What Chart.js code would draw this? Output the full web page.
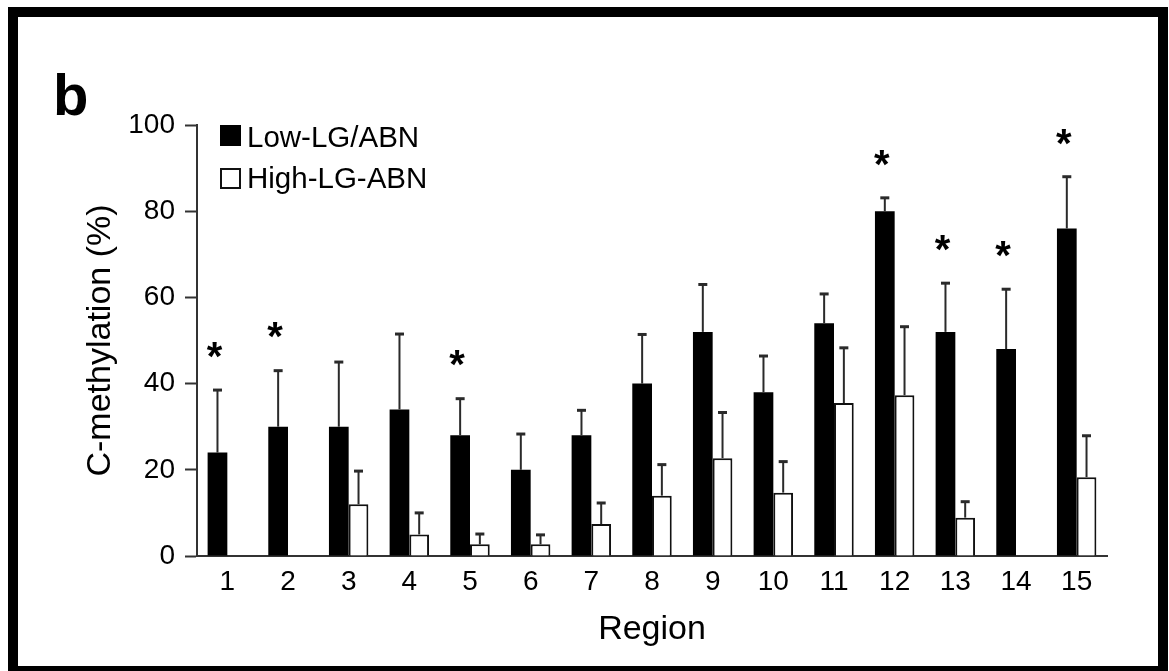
<!DOCTYPE html>
<html>
<head>
<meta charset="utf-8">
<script src="https://cdn.jsdelivr.net/npm/chart.js@4.4.1/dist/chart.umd.min.js"></script>
<style>
  html, body { margin: 0; padding: 0; background: #fff; }
  #wrap { position: relative; width: 1169px; height: 671px; overflow: hidden; }
  #frame { position: absolute; left: 8px; top: 7px; width: 1160px; height: 669px;
           box-sizing: border-box; border: 10px solid #000; pointer-events: none; }
</style>
</head>
<body>
<div id="wrap">
  <canvas id="grafico"></canvas>
  <div id="frame"></div>
</div>
<script>
const regioes = ['1', '2', '3', '4', '5', '6', '7', '8', '9', '10', '11', '12', '13', '14', '15'];

const lowMedia = [24, 30, 30, 34, 28, 20, 28, 40, 52, 38, 54, 80, 52, 48, 76];
const lowErro = [14.5, 13, 15, 17.5, 8.5, 8.3, 5.8, 11.4, 11, 8.4, 6.8, 3.1, 11.3, 13.9, 12];

const highMedia = [0, 0, 12, 5, 2.7, 2.7, 7.4, 14, 22.7, 14.7, 35.5, 37.3, 8.9, 0, 18.3];
const highErro = [0, 0, 7.7, 5, 2.4, 2.2, 4.9, 7.2, 10.6, 7.2, 12.8, 15.9, 3.7, 0, 9.6];

// asterisco = diferença significativa
const significativo = [true, true, false, false, true, false, false, false, false, false, false, true, true, true, true];

const yTicks = [0, 20, 40, 60, 80, 100];

const fonte = "'Liberation Sans', Arial, sans-serif";
Chart.defaults.color = '#000';
Chart.defaults.font.family = fonte;

const erros = [lowErro, highErro];

const extras = {
	id: 'extras',
	afterDatasetsDraw(chart) {
		const c = chart.ctx;
		const y = chart.scales.y;
		c.save();
		// barras de erro (só para cima)
		c.strokeStyle = '#2a2a2a';
		chart.data.datasets.forEach((ds, d) => {
			const meta = chart.getDatasetMeta(d);
			meta.data.forEach((bar, i) => {
				const e = erros[d][i];
				if (!e) return;
				const topo = y.getPixelForValue(ds.data[i] + e);
				c.lineWidth = 2;
				c.beginPath();
				c.moveTo(bar.x, bar.y);
				c.lineTo(bar.x, topo);
				c.stroke();
				c.lineWidth = 3;
				c.beginPath();
				c.moveTo(bar.x - 4.5, topo);
				c.lineTo(bar.x + 4.5, topo);
				c.stroke();
			});
		});
		// asteriscos
		c.fillStyle = '#000';
		c.font = 'bold 40px ' + fonte;
		c.textAlign = 'center';
		c.textBaseline = 'alphabetic';
		const meta0 = chart.getDatasetMeta(0);
		significativo.forEach((s, i) => {
			if (!s) return;
			const bar = meta0.data[i];
			const topo = y.getPixelForValue(lowMedia[i] + lowErro[i]);
			c.fillText('*', bar.x - 3, topo - 43 + 0.57 * 40);
		});
		c.restore();
	},
	afterDraw(chart) {
		const c = chart.ctx;
		c.save();
		// legenda
		c.fillStyle = '#000';
		c.fillRect(220, 125, 21, 21);
		c.strokeStyle = '#111';
		c.lineWidth = 2;
		c.strokeRect(221, 169, 19, 19);
		c.font = '29.5px ' + fonte;
		c.textAlign = 'left';
		c.textBaseline = 'alphabetic';
		c.fillText(chart.data.datasets[0].label, 247, 147);
		c.fillText(chart.data.datasets[1].label, 247, 188);
		// letra do painel
		c.font = 'bold 58px ' + fonte;
		c.fillText('b', 53, 115);
		c.restore();
	}
};

const ctx = document.getElementById('grafico').getContext('2d');

let grafico = new Chart(ctx, {
	type: 'bar',
	data: {
		labels: regioes,
		datasets: [
			{
				label: 'Low-LG/ABN',
				data: lowMedia,
				backgroundColor: '#000',
				borderColor: '#000',
				borderWidth: 0,
			},
			{
				label: 'High-LG-ABN',
				data: highMedia,
				backgroundColor: '#fff',
				borderColor: '#111',
				borderWidth: 2,
				borderSkipped: 'bottom',
			}
		]
	},
	options: {
		responsive: true,
		maintainAspectRatio: false,
		animation: false,
		devicePixelRatio: 1,
		categoryPercentage: 0.65,
		barPercentage: 1.0,
		layout: { padding: { left: 78, top: 125, right: 62, bottom: 16.6 } },
		plugins: {
			legend: { display: false },
			tooltip: { enabled: false }
		},
		scales: {
			x: {
				grid: { display: false, drawTicks: false },
				border: { color: '#333', width: 2 },
				ticks: { padding: 9, font: { size: 28 }, color: '#000', maxRotation: 0 },
				title: { display: true, text: 'Region', font: { size: 34 }, color: '#000', padding: { top: 4, bottom: 4 } },
				afterFit: s => { s.height = 98.4; }
			},
			y: {
				min: 0,
				max: 100,
				afterBuildTicks: s => { s.ticks = yTicks.map(v => ({ value: v })); },
				grid: { drawOnChartArea: false, tickLength: 12, tickColor: '#333', tickWidth: 2 },
				border: { color: '#333', width: 2 },
				ticks: { padding: 10, font: { size: 28 }, color: '#000' },
				title: { display: true, text: 'C-methylation (%)', font: { size: 34 }, color: '#000', padding: { top: 2, bottom: 4 } },
				afterFit: s => { s.width = 119; }
			}
		}
	},
	plugins: [extras]
});
</script>
</body>
</html>
